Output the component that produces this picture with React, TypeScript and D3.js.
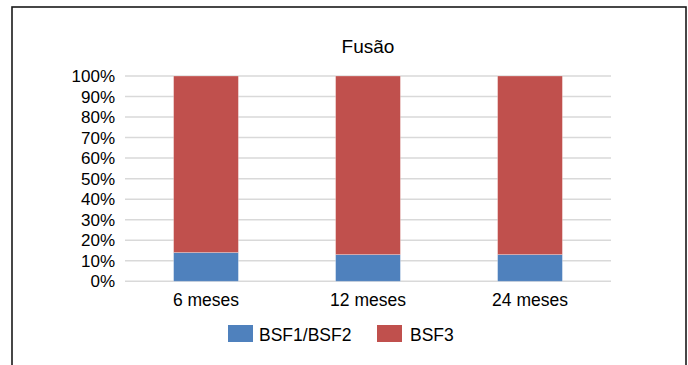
import React from "react";
import * as d3 from "d3";

const title = "Fusão";
const categories = ["6 meses", "12 meses", "24 meses"];
const seriesNames = ["BSF1/BSF2", "BSF3"];
const bsf12 = [14, 13, 13];
const bsf3 = [86, 87, 87];
const yTicks = [0, 10, 20, 30, 40, 50, 60, 70, 80, 90, 100];
const colors = ["#4f81bd", "#c0504d"];

const W = 688;
const H = 365;
const plot = { left: 125, right: 611, top: 76, bottom: 281.3 };
const font = "'Liberation Sans', Arial, Helvetica, sans-serif";

export default function App() {
  const x = d3
    .scaleBand<string>()
    .domain(categories)
    .range([plot.left, plot.right])
    .paddingInner(0.6)
    .paddingOuter(0.3);
  const y = d3.scaleLinear().domain([0, 100]).range([plot.bottom, plot.top]);

  const table = categories.map((c, i) => ({ cat: c, s0: bsf12[i], s1: bsf3[i] }));
  const stacked = d3.stack<any>().keys(["s0", "s1"])(table);

  return (
    <svg
      width={W}
      height={H}
      style={{ position: "absolute", left: 0, top: 0, background: "#fff" }}
      fontFamily={font}
    >
      <rect x={0} y={0} width={W} height={H} fill="#fff" />
      <rect x={12} y={7} width={674} height={420} fill="none" stroke="#1a1a1a" strokeWidth={1.6} />
      <text x={368} y={52.5} textAnchor="middle" fontSize={19} fill="#000">
        {title}
      </text>
      {yTicks.map((t) => (
        <g key={t}>
          <line x1={plot.left} x2={plot.right} y1={y(t)} y2={y(t)} stroke="#d9d9d9" strokeWidth={1.5} />
          <text x={115} y={y(t)} dy="0.36em" textAnchor="end" fontSize={17} fill="#000">
            {t}%
          </text>
        </g>
      ))}
      {stacked.map((layer, li) => (
        <g key={li} fill={colors[li]}>
          {layer.map((d, i) => (
            <rect
              key={i}
              x={x(categories[i])}
              y={y(d[1])}
              width={x.bandwidth()}
              height={y(d[0]) - y(d[1])}
              stroke="#ffffff"
              strokeOpacity={0.35}
              strokeWidth={0.8}
            />
          ))}
        </g>
      ))}
      {categories.map((c) => (
        <text key={c} x={(x(c) as number) + x.bandwidth() / 2} y={305.5} textAnchor="middle" fontSize={17.5} fill="#000">
          {c}
        </text>
      ))}
      <g>
        <rect x={228} y={325} width={25} height={17} fill={colors[0]} />
        <text x={259} y={340.5} fontSize={17.5} fill="#000">
          {seriesNames[0]}
        </text>
        <rect x={377} y={325} width={25} height={17} fill={colors[1]} />
        <text x={410} y={340.5} fontSize={17.5} fill="#000">
          {seriesNames[1]}
        </text>
      </g>
    </svg>
  );
}
